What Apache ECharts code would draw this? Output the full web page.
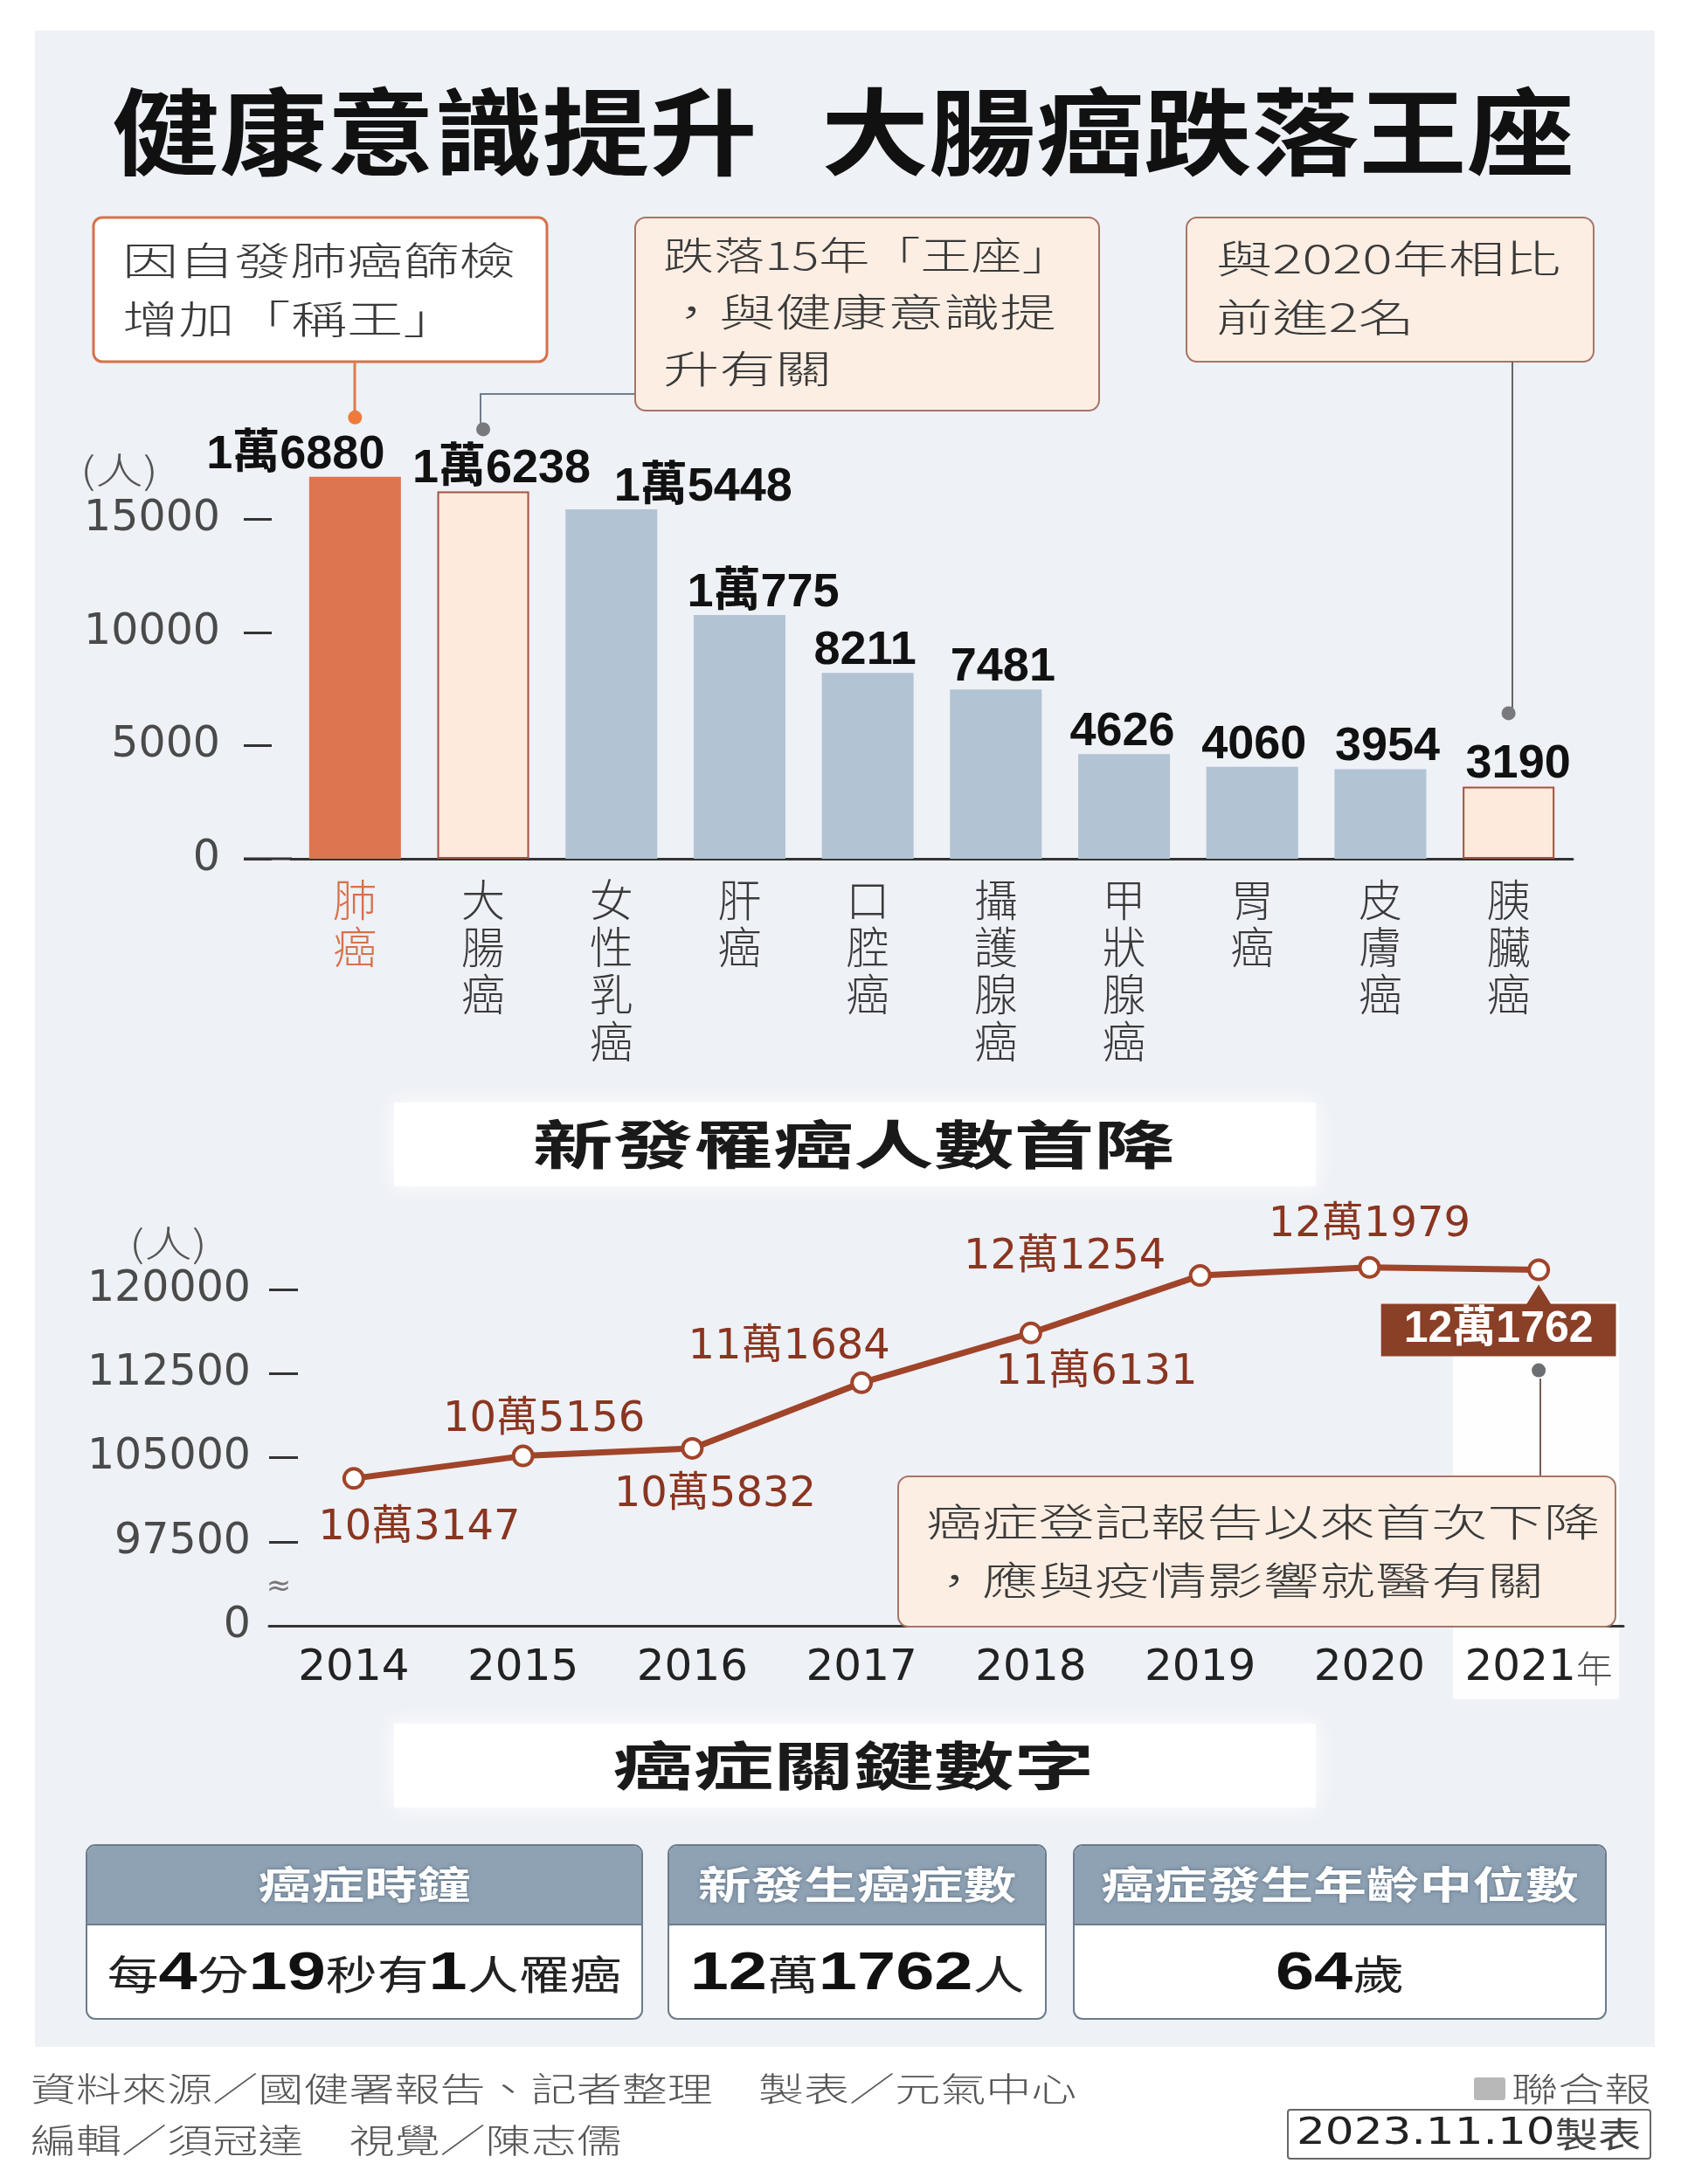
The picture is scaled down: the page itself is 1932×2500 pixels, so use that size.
<!DOCTYPE html>
<html><head><meta charset="utf-8">
<script src="https://cdn.jsdelivr.net/npm/echarts@6/dist/echarts.min.js"></script>
<style>html,body{margin:0;padding:0;background:#fff}#c{width:1932px;height:2500px}</style>
</head><body><div id="c"></div>
<script>
// ---- data ----
const cancerTypes = ['肺癌','大腸癌','女性乳癌','肝癌','口腔癌','攝護腺癌','甲狀腺癌','胃癌','皮膚癌','胰臟癌'];
const newCases2021 = [16880,16238,15448,10775,8211,7481,4626,4060,3954,3190];
const barTicks = [0,5000,10000,15000];
const years = ['2014','2015','2016','2017','2018','2019','2020','2021'];
const totalCases = [103147,105156,105832,111684,116131,121254,121979,121762];
const lineTicks = [90000,97500,105000,112500,120000];

// ---- styles ----
const CJK = '"Noto Sans CJK TC","Noto Sans CJK SC",sans-serif';
const NUM = '"DejaVu Sans","Noto Sans CJK TC",sans-serif';
const NUMB = '"Liberation Sans","Noto Sans CJK TC",sans-serif';
const BROWN = '#a0442a';
const wan = v => v >= 10000 ? Math.floor(v / 10000) + '萬' + (v % 10000) : String(v);
const barLabelDx = [-68, 21, 105, 27, -3, 8, -2, 2, 8, 11];
const lineLabelOff = [[75,57],[24,-41],[26,54],[-83,-40],[75,46],[-155,-21],[0,-48],[-46,69]];
function barStyle(i){
  if (i === 0) return {color:'#dd7550'};
  if (i === 1 || i === 9) return {color:'#fdeadd', borderColor:'#a4523f', borderWidth:2};
  return {color:'#b2c3d3'};
}

function T(x, y, text, o){
  o = o || {};
  return {type:'text', x:x, y:y, scaleX:o.sx || 1, z:o.z || 60,
    style:{text:text, fontSize:o.fs || 44, fontFamily:o.ff || CJK, fontWeight:o.fw || 'normal',
      fill:o.c || '#333', align:o.a || 'left', verticalAlign:'middle', rich:o.rich,
      textShadowColor:o.sc, textShadowBlur:o.sb || 0}};
}
function R(x, y, w, h, o){
  return {type:'rect', z:o.z || 40, shape:{x:x, y:y, width:w, height:h, r:o.r || 0},
    style:{fill:o.fill || 'none', stroke:o.stroke, lineWidth:o.lw || 0,
      shadowBlur:o.blur || 0, shadowColor:o.shc}};
}
function L(pts, o){
  return {type:'polyline', z:o.z || 45, shape:{points:pts}, style:{stroke:o.c, lineWidth:o.lw || 2, fill:null}};
}

const CALL = {fs:44, sx:1.46, c:'#3a3a3a', fw:300};
const PEACH = '#fdeee3', PEACHB = '#a87466';

const elements = [
  // panel
  R(40, 35, 1854, 2308, {fill:'#eef1f6', z:-20}),
  // white strip behind 2021
  R(1663, 1490, 190, 455, {fill:'rgba(255,255,255,0.9)', z:-15}),
  // title
  T(128, 151, '健康意識提升', {fs:108, fw:'bold', sx:1.14, c:'#111'}),
  T(940, 151, '大腸癌跌落王座', {fs:108, fw:'bold', sx:1.14, c:'#111'}),
  // callout boxes (bar chart)
  R(107, 249, 519, 165, {fill:'#fff', stroke:'#d8714a', lw:3, r:10}),
  T(140, 298, '因自發肺癌篩檢', CALL),
  T(140, 365, '增加「稱王」', CALL),
  R(727, 249, 531, 221, {fill:PEACH, stroke:PEACHB, lw:2, r:12}),
  T(759, 292, '跌落15年「王座」', Object.assign({}, CALL, {sx:1.32})),
  T(759, 357, '，與健康意識提', CALL),
  T(759, 422, '升有關', CALL),
  R(1358, 249, 466, 165, {fill:PEACH, stroke:PEACHB, lw:2, r:12}),
  T(1392, 296, '與2020年相比', CALL),
  T(1392, 363, '前進2名', CALL),
  L([[406,414],[406,472]], {c:'#e07a4a', lw:3}),
  L([[727,451],[550,451],[550,485]], {c:'#6f7d8c', lw:2}),
  L([[1731,414],[1731,810]], {c:'#666', lw:2}),
  // y unit labels
  T(92, 538, '(人)', {fs:42, sx:1.3, c:'#555', fw:300}),
  T(148, 1423, '(人)', {fs:42, sx:1.3, c:'#555', fw:300}),
  // bar baseline left extension
  L([[279,983],[334,983]], {c:'#333', lw:3}),
  // axis break
  T(319, 1817, '≈', {fs:34, c:'#777', a:'center', ff:NUM}),
  // section header 1
  R(451, 1262, 1055, 96, {fill:'#fff', blur:24, shc:'#ffffff', z:20}),
  T(977, 1310, '新發罹癌人數首降', {fs:60, fw:'bold', sx:1.53, a:'center', c:'#1a1a1a'}),
  // callout box (line chart)
  R(1028, 1690, 821, 172, {fill:PEACH, stroke:PEACHB, lw:2, r:12, z:50}),
  T(1060, 1742, '癌症登記報告以來首次下降', Object.assign({}, CALL, {z:60})),
  T(1060, 1809, '，應與疫情影響就醫有關', Object.assign({}, CALL, {z:60})),
  L([[1763,1578],[1763,1690]], {c:'#7a5a50', lw:2}),
  // section header 2
  R(451, 1973, 1055, 96, {fill:'#fff', blur:24, shc:'#ffffff', z:20}),
  T(977, 2021, '癌症關鍵數字', {fs:60, fw:'bold', sx:1.53, a:'center', c:'#1a1a1a'})
];

// key-number cards
const cards = [
  {x:99, w:636, head:'癌症時鐘', body:'{c|每}{d|4}{c|分}{d|19}{c|秒有}{d|1}{c|人罹癌}'},
  {x:765, w:432, head:'新發生癌症數', body:'{d|12}{c|萬}{d|1762}{c|人}'},
  {x:1229, w:609, head:'癌症發生年齡中位數', body:'{d|64}{c|歲}'}
];
const bodyRich = {
  d:{fontSize:62, fontWeight:'bold', fontFamily:NUMB, fill:'#111'},
  c:{fontSize:46, fontFamily:CJK, fill:'#222'}
};
cards.forEach(cd => {
  elements.push(R(cd.x, 2112, cd.w, 199, {fill:'#fff', stroke:'#6c7c8c', lw:2, r:10, z:40}));
  elements.push(R(cd.x + 1, 2113, cd.w - 2, 90, {fill:'#8fa2b4', r:[9,9,0,0], z:41}));
  elements.push(L([[cd.x, 2203],[cd.x + cd.w, 2203]], {c:'#6c7c8c', lw:2, z:42}));
  elements.push(T(cd.x + cd.w / 2, 2157, cd.head, {fs:44, fw:'bold', sx:1.38, a:'center', c:'#fff', sc:'rgba(40,60,80,0.5)', sb:4}));
  elements.push(T(cd.x + cd.w / 2, 2260, cd.body, {fs:46, sx:1.28, a:'center', rich:bodyRich}));
});

// footer
elements.push(T(35, 2391, '資料來源／國健署報告、記者整理　製表／元氣中心', {fs:38, sx:1.37, c:'#555', fw:300}));
elements.push(T(35, 2450, '編輯／須冠達　視覺／陳志儒', {fs:38, sx:1.37, c:'#555', fw:300}));
elements.push(R(1687, 2378, 36, 26, {fill:'#b8b8b8', r:3}));
elements.push(T(1730, 2391, '聯合報', {fs:38, sx:1.4, c:'#555', fw:300}));
elements.push(R(1474, 2415, 415, 56, {fill:'#fff', stroke:'#666', lw:2, r:3}));
elements.push(T(1681, 2443, '{n|2023.11.10}{c|製表}', {fs:40, sx:1.23, a:'center',
  rich:{n:{fontSize:42, fontFamily:NUM, fill:'#222'}, c:{fontSize:40, fontFamily:CJK, fill:'#444'}}}));

const option = {
  backgroundColor:'#ffffff',
  animation:false,
  grid:[
    {left:333, top:465, width:1467, height:518},
    {left:308, top:1380, width:1550, height:481}
  ],
  xAxis:[
    {type:'category', gridIndex:0,
     data:cancerTypes.map((c, i) => i === 0 ? {value:c, textStyle:{color:'#d8714a'}} : c),
     axisLine:{lineStyle:{color:'#333', width:3}}, axisTick:{show:false},
     axisLabel:{interval:0, formatter:v => v.split('').join('\n'), fontSize:50, lineHeight:54,
       color:'#3a3a3a', fontFamily:CJK, fontWeight:300, margin:20}},
    {type:'category', gridIndex:1, boundaryGap:true, data:years,
     axisLine:{lineStyle:{color:'#333', width:3}}, axisTick:{show:false},
     axisLabel:{interval:0, margin:24,
       formatter:(v, i) => i === years.length - 1 ? '{y|' + v + '}{n|年}' : '{y|' + v + '}',
       rich:{y:{fontSize:50, fontFamily:NUM, color:'#222'}, n:{fontSize:42, fontFamily:CJK, color:'#555', fontWeight:300}}}}
  ],
  yAxis:[
    {type:'value', gridIndex:0, min:0, max:20000, offset:54,
     axisLine:{show:false}, splitLine:{show:false},
     axisTick:{show:true, inside:true, length:32, lineStyle:{color:'#333', width:3}, customValues:barTicks},
     axisLabel:{customValues:barTicks, formatter:v => String(v), fontSize:49, color:'#4a4a4a', fontFamily:NUM, margin:27}},
    {type:'value', gridIndex:1, min:90000, max:127500,
     axisLine:{show:false}, splitLine:{show:false},
     axisTick:{show:true, inside:true, length:33, lineStyle:{color:'#333', width:3}, customValues:lineTicks.slice(1)},
     axisLabel:{customValues:lineTicks, formatter:v => v === 90000 ? '0' : String(v),
       fontSize:49, color:'#4a4a4a', fontFamily:NUM, margin:21}}
  ],
  series:[
    {type:'bar', xAxisIndex:0, yAxisIndex:0, barWidth:105,
     data:newCases2021.map((v, i) => ({value:v, itemStyle:barStyle(i), label:{offset:[barLabelDx[i], 6]}})),
     label:{show:true, position:'top', distance:4, formatter:p => wan(p.value),
       fontSize:54, fontWeight:'bold', color:'#111', fontFamily:NUMB},
     markPoint:{silent:true, label:{show:false}, symbol:'circle', symbolSize:16,
       data:[
         {coord:[cancerTypes[0], newCases2021[0]], symbolOffset:[0,-68], itemStyle:{color:'#ee7b3b'}},
         {coord:[cancerTypes[1], newCases2021[1]], symbolOffset:[0,-71], itemStyle:{color:'#77797c'}},
         {coord:[cancerTypes[9], newCases2021[9]], symbolOffset:[0,-84], itemStyle:{color:'#77797c'}}
       ]}},
    {type:'line', xAxisIndex:1, yAxisIndex:1, symbol:'circle', symbolSize:22, z:5,
     lineStyle:{color:BROWN, width:7},
     itemStyle:{color:'#fff', borderColor:BROWN, borderWidth:4},
     label:{show:true, position:'inside', formatter:p => wan(p.value),
       fontSize:48, fontFamily:NUM, color:'#8a3520'},
     data:totalCases.map((v, i) => {
       const d = {value:v, label:{offset:lineLabelOff[i]}};
       if (i === totalCases.length - 1) {
         d.label = {offset:lineLabelOff[i], backgroundColor:'#8a3f27', color:'#fff', fontWeight:'bold',
           fontFamily:NUMB, fontSize:50, lineHeight:50, padding:[5,26]};
       }
       return d;
     }),
     markPoint:{silent:true, label:{show:false},
       data:[
         {coord:[years[7], totalCases[7]], symbol:'triangle', symbolSize:[30,24], symbolOffset:[0,29], itemStyle:{color:'#8a3f27'}},
         {coord:[years[7], totalCases[7]], symbol:'circle', symbolSize:16, symbolOffset:[0,115], itemStyle:{color:'#6b6e72'}}
       ]}}
  ],
  graphic:{elements:elements}
};

const chart = echarts.init(document.getElementById('c'), null, {renderer:'canvas'});
chart.setOption(option);
</script>
</body></html>
